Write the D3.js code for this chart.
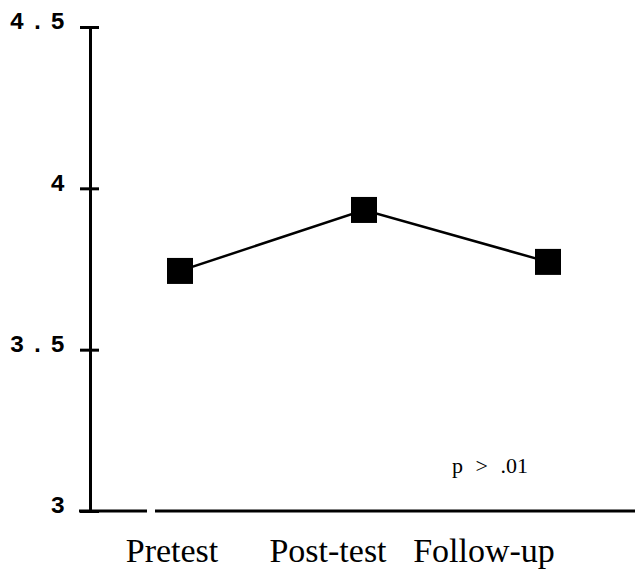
<!DOCTYPE html>
<html>
<head>
<meta charset="utf-8">
<script src="https://cdn.jsdelivr.net/npm/d3@7"></script>
<style>
  body { margin: 0; background: #fff; }
  svg { display: block; }
</style>
</head>
<body>
<div id="chart"></div>
<script>
// data
var phases = ["Pretest", "Post-test", "Follow-up"];
var means = [3.744, 3.933, 3.772];
var y_ticks = [3, 3.5, 4, 4.5];
var y_tick_labels = ["3", "3.5", "4", "4.5"];
var note = "p > .01";

var width = 635, height = 569;

var svg = d3.select("#chart").append("svg")
    .attr("width", width)
    .attr("height", height);

var y = d3.scaleLinear().domain([3, 4.5]).range([511, 27]);
var x = d3.scalePoint().domain(phases).range([180, 548]);
// category labels sit a bit left of the markers in the original
var x_label = d3.scalePoint().domain(phases).range([172, 484]);

// y axis
var y_axis = d3.axisLeft(y)
    .tickValues(y_ticks)
    .tickSize(0)
    .tickFormat(function(d, i) { return y_tick_labels[i]; });

var gy = svg.append("g")
    .attr("transform", "translate(90,0)")
    .call(y_axis);

gy.select(".domain")
    .attr("stroke", "#000")
    .attr("stroke-width", 3);

gy.selectAll(".tick line").remove();
gy.selectAll(".tick").append("line")
    .attr("x1", -10)
    .attr("x2", 9)
    .attr("stroke", "#000")
    .attr("stroke-width", 3);

gy.selectAll(".tick text")
    .attr("x", -19)
    .attr("dy", "0.08em")
    .style("font-family", "'Liberation Mono', 'DejaVu Sans Mono', monospace")
    .style("font-weight", "bold")
    .style("font-size", "24px")
    .style("letter-spacing", "6px")
    .attr("fill", "#000");

// x axis base line, drawn in two pieces like the scan
svg.append("line")
    .attr("x1", 79).attr("x2", 147)
    .attr("y1", y(3)).attr("y2", y(3))
    .attr("stroke", "#000").attr("stroke-width", 3);
svg.append("line")
    .attr("x1", 155).attr("x2", width)
    .attr("y1", y(3)).attr("y2", y(3))
    .attr("stroke", "#000").attr("stroke-width", 3);

// line joining the means
var line = d3.line()
    .x(function(d, i) { return x(phases[i]); })
    .y(function(d) { return y(d); });

svg.append("path")
    .datum(means)
    .attr("d", line)
    .attr("fill", "none")
    .attr("stroke", "#000")
    .attr("stroke-width", 2.5);

// square markers
var size = 26;
svg.selectAll(".marker")
    .data(means)
    .join("rect")
    .attr("class", "marker")
    .attr("x", function(d, i) { return x(phases[i]) - size / 2; })
    .attr("y", function(d) { return y(d) - size / 2; })
    .attr("width", size)
    .attr("height", size)
    .attr("fill", "#000");

// category labels
svg.selectAll(".cat")
    .data(phases)
    .join("text")
    .attr("class", "cat")
    .attr("x", function(d) { return x_label(d); })
    .attr("y", 562)
    .attr("text-anchor", "middle")
    .style("font-family", "'Liberation Serif', 'Times New Roman', serif")
    .style("font-size", "34px")
    .text(function(d) { return d; });

// significance note
svg.append("text")
    .attr("x", 452)
    .attr("y", 473)
    .style("font-family", "'Liberation Serif', 'Times New Roman', serif")
    .style("font-size", "22px")
    .style("word-spacing", "7px")
    .text(note);
</script>
</body>
</html>
